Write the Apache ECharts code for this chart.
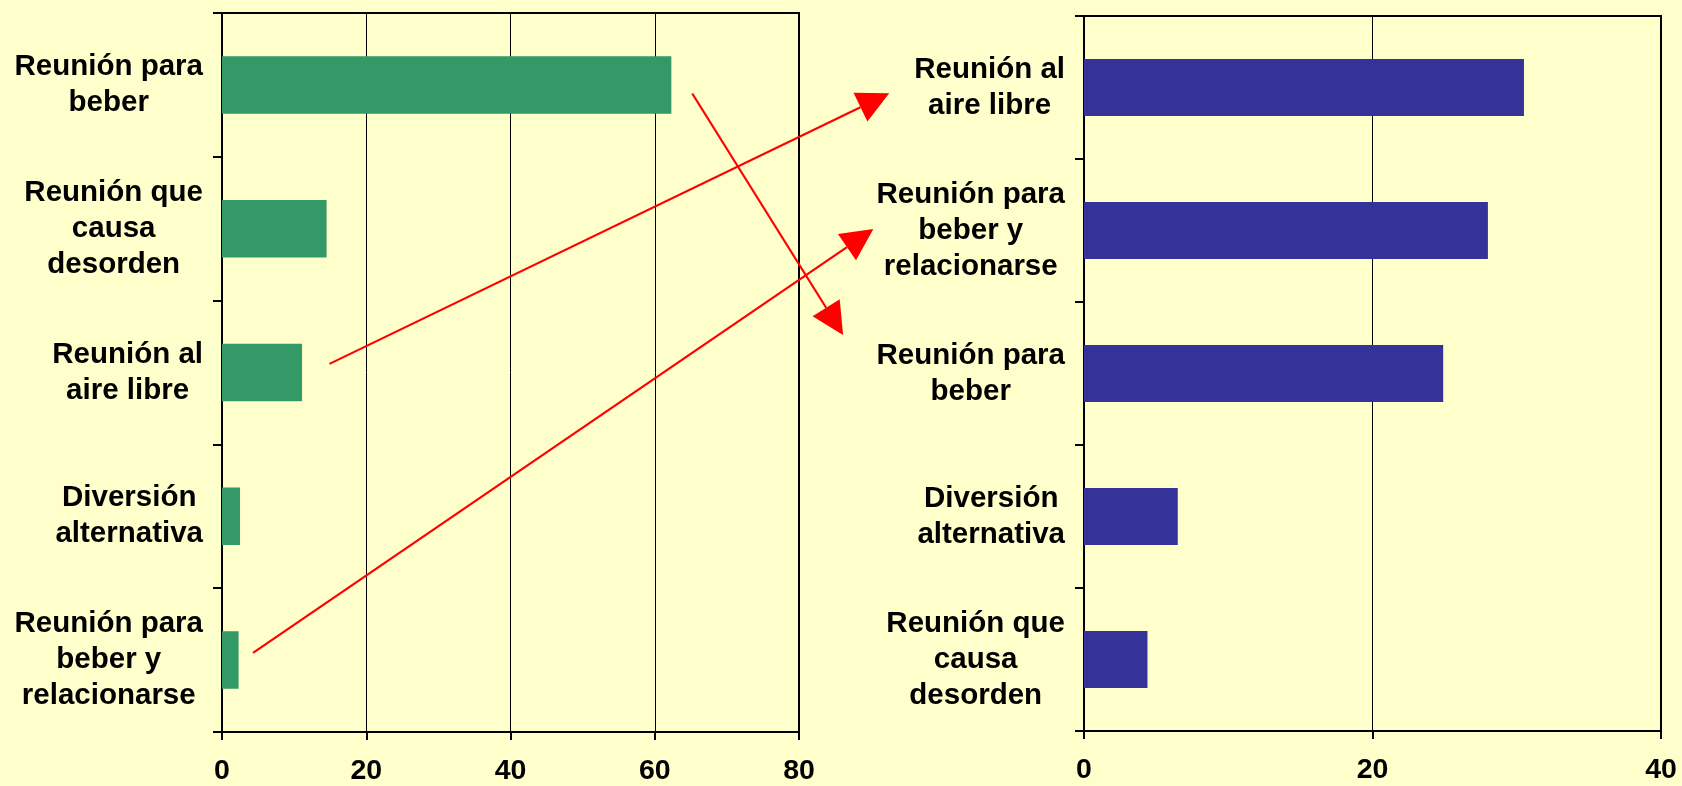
<!DOCTYPE html>
<html>
<head>
<meta charset="utf-8">
<script src="https://cdn.jsdelivr.net/npm/echarts@6/dist/echarts.min.js"></script>
<style>
html,body{margin:0;padding:0;background:#FFFFCC;}
#c{width:1682px;height:786px;}
</style>
</head>
<body>
<div id="c"></div>
<script>
// ---- data ----
const leftCategories = ['Reunión para\nbeber', 'Reunión que\ncausa\ndesorden', 'Reunión al\naire libre', 'Diversión\nalternativa', 'Reunión para\nbeber y\nrelacionarse'];
const leftValues = [62.3, 14.5, 11.1, 2.5, 2.3];
const leftMax = 80;
const rightCategories = ['Reunión al\naire libre', 'Reunión para\nbeber y\nrelacionarse', 'Reunión para\nbeber', 'Diversión\nalternativa', 'Reunión que\ncausa\ndesorden'];
const rightValues = [30.5, 28.0, 24.9, 6.5, 4.4];
const rightMax = 40;
const tickStep = 20;

// arrows linking a category's place in the left ranking to its place in the right ranking
const arrowCategories = ['Reunión para\nbeber', 'Reunión al\naire libre', 'Reunión para\nbeber y\nrelacionarse'];
const arrowStartValues = [65.2, 14.9, 4.3];     // left-chart value where the arrow starts
const arrowStartBand = [0.06, -0.06, -0.05];    // shift inside the category band
const arrowEndValues = [-16.7, -13.5, -14.6];   // right-chart value at the arrow tip
const arrowEndBand = [-0.27, 0.04, -0.01];

// ---- chart ----
const chart = echarts.init(document.getElementById('c'), null, {renderer: 'canvas'});
const fontFamily = '"Liberation Sans", Arial, sans-serif';
const catFont = {fontFamily: fontFamily, fontWeight: 'bold', fontSize: 29.5, color: '#000'};
const tickFont = {fontFamily: fontFamily, fontWeight: 'bold', fontSize: 28.5, color: '#000'};

function catLabel(v) {
  return v.split('\n').map(s => '{c|' + s + '}').join('\n');
}
function yAxisFor(gridIndex, data) {
  return {
    type: 'category', gridIndex: gridIndex, data: data, inverse: true,
    axisLine: {show: true, lineStyle: {color: '#000', width: 2}},
    axisTick: {show: true, length: 9, lineStyle: {color: '#000', width: 2}},
    axisLabel: {margin: 19, align: 'right', formatter: catLabel,
      rich: {c: Object.assign({align: 'center', lineHeight: 36}, catFont)}},
    splitLine: {show: false}
  };
}
function xAxisFor(gridIndex, max) {
  return {
    type: 'value', gridIndex: gridIndex, min: 0, max: max, interval: tickStep,
    axisLine: {show: true, onZero: false, lineStyle: {color: '#000', width: 2}},
    axisTick: {show: true, length: 8, lineStyle: {color: '#000', width: 2}},
    axisLabel: Object.assign({margin: 25}, tickFont),
    splitLine: {show: true, lineStyle: {color: '#000', width: 1}}
  };
}

chart.setOption({
  animation: false,
  backgroundColor: '#FFFFCC',
  grid: [
    {left: 222, top: 13, width: 577, height: 719, show: true, borderColor: '#000', borderWidth: 2, containLabel: false},
    {left: 1084, top: 16, width: 577, height: 715, show: true, borderColor: '#000', borderWidth: 2, containLabel: false}
  ],
  xAxis: [xAxisFor(0, leftMax), xAxisFor(1, rightMax)],
  yAxis: [yAxisFor(0, leftCategories), yAxisFor(1, rightCategories)],
  series: [
    {type: 'bar', xAxisIndex: 0, yAxisIndex: 0, data: leftValues, barWidth: '40%', itemStyle: {color: '#339966'}},
    {type: 'bar', xAxisIndex: 1, yAxisIndex: 1, data: rightValues, barWidth: '40%', itemStyle: {color: '#333399'}}
  ]
});

function toPx(gridIndex, cats, value, cat, bandShift) {
  const i = cats.indexOf(cat);
  const p = chart.convertToPixel({gridIndex: gridIndex}, [value, i]);
  const a = chart.convertToPixel({gridIndex: gridIndex}, [value, 0]);
  const b = chart.convertToPixel({gridIndex: gridIndex}, [value, 1]);
  const band = b[1] - a[1];
  return [p[0], p[1] + bandShift * band];
}

const graphics = [];
const headLen = 32, headWidth = 32;
arrowCategories.forEach((cat, k) => {
  const s = toPx(0, leftCategories, arrowStartValues[k], cat, arrowStartBand[k]);
  const t = toPx(1, rightCategories, arrowEndValues[k], cat, arrowEndBand[k]);
  const dx = t[0] - s[0], dy = t[1] - s[1];
  const len = Math.sqrt(dx * dx + dy * dy);
  const ux = dx / len, uy = dy / len;
  const bx = t[0] - ux * headLen, by = t[1] - uy * headLen;
  const px = -uy * headWidth / 2, py = ux * headWidth / 2;
  graphics.push({type: 'line', z: 100, shape: {x1: s[0], y1: s[1], x2: bx, y2: by},
    style: {stroke: '#FF0000', lineWidth: 2.2}});
  graphics.push({type: 'polygon', z: 100, shape: {points: [[t[0], t[1]], [bx + px, by + py], [bx - px, by - py]]},
    style: {fill: '#FF0000'}});
});
chart.setOption({graphic: graphics});
</script>
</body>
</html>
